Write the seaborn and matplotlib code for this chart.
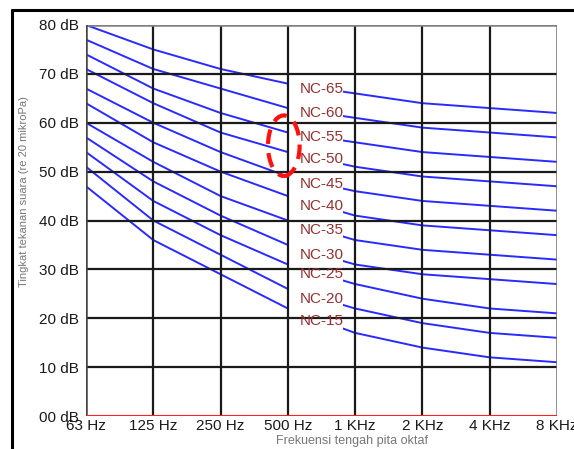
import numpy as np
import pandas as pd
import matplotlib
matplotlib.use("Agg")
from matplotlib import pyplot
from matplotlib.lines import Line2D
from matplotlib.patches import Ellipse
import seaborn as sns

# octave band centres and NC curve levels (dB)
bands = ['63 Hz', '125 Hz', '250 Hz', '500 Hz', '1 KHz', '2 KHz', '4 KHz', '8 KHz']
nc_names = ['NC-15', 'NC-20', 'NC-25', 'NC-30', 'NC-35', 'NC-40',
            'NC-45', 'NC-50', 'NC-55', 'NC-60', 'NC-65']
nc15 = [47, 36, 29, 22, 17, 14, 12, 11]
nc20 = [51, 40, 33, 26, 22, 19, 17, 16]
nc25 = [54, 44, 37, 31, 27, 24, 22, 21]
nc30 = [57, 48, 41, 35, 31, 29, 28, 27]
nc35 = [60, 52, 45, 40, 36, 34, 33, 32]
nc40 = [64, 56, 50, 45, 41, 39, 38, 37]
nc45 = [67, 60, 54, 49, 46, 44, 43, 42]
nc50 = [71, 64, 58, 54, 51, 49, 48, 47]
nc55 = [74, 67, 62, 58, 56, 54, 53, 52]
nc60 = [77, 71, 67, 63, 61, 59, 58, 57]
nc65 = [80, 75, 71, 68, 66, 64, 63, 62]
curves = [nc15, nc20, nc25, nc30, nc35, nc40, nc45, nc50, nc55, nc60, nc65]
y_ticks = [0, 10, 20, 30, 40, 50, 60, 70, 80]
y_ticklabels = ['00 dB', '10 dB', '20 dB', '30 dB', '40 dB', '50 dB', '60 dB', '70 dB', '80 dB']

rows = []
for name, vals in zip(nc_names, curves):
	for i, v in enumerate(vals):
		rows.append({'band': i, 'level': v, 'curve': name})
df = pd.DataFrame(rows)

sns.set_theme(style="white")
pyplot.rcParams['font.family'] = ['Liberation Sans', 'DejaVu Sans']

fig = pyplot.figure(figsize=(5.74, 4.49), dpi=100)
ax = fig.add_axes([86/574, 1 - 416/449, (557-86)/574, (416-25)/449])

line_blue = '#2a2aff'
sns.lineplot(data=df, x='band', y='level', hue='curve',
			 palette=[line_blue] * len(nc_names), legend=False,
			 linewidth=1.4, ax=ax, zorder=2)

ax.set_xlim(0, len(bands) - 1)
ax.set_ylim(0, 80)

# white mask where the labels sit, between 500 Hz and the label end
label_end = 3.82
ax.fill_between([3, label_end], 16, 69.5, color='white', lw=0, zorder=2.5)

# grid
for y in y_ticks[1:-1]:
	ax.axhline(y, color='#1a1a1a', lw=1.6, zorder=3)
for i in range(1, len(bands) - 1):
	ax.axvline(i, color='#1a1a1a', lw=1.6, zorder=3)
ax.axhline(80, color='#808080', lw=1.8, zorder=3)
ax.axvline(len(bands) - 1, color='#707070', lw=1.8, zorder=3)
ax.axvline(0, color='#444444', lw=1.8, zorder=3)
ax.axhline(0, color='#ff2020', lw=1.5, zorder=3.5)
for s in ax.spines.values():
	s.set_visible(False)

# curve labels at the middle of the 500 Hz - 1 KHz segment
for name, vals in zip(nc_names, curves):
	ax.text(3.5, (vals[3] + vals[4]) / 2, name, color='#963030',
			fontsize=11, ha='center', va='center', zorder=4)

# dashed red ring
ell = Ellipse((2.94, 55.3), 0.47, 12.4, fill=False, edgecolor='#ff1010',
			  lw=3, linestyle=(0, (3.5, 2.2)), zorder=5)
ax.add_patch(ell)

ax.set_xticks(range(len(bands)))
ax.set_xticklabels(bands, fontsize=11, color='#1a1a1a')
ax.set_yticks(y_ticks)
ax.set_yticklabels(y_ticklabels, fontsize=11, color='#1a1a1a')
ax.tick_params(axis='both', length=0)
ax.tick_params(axis='y', pad=5)
ax.tick_params(axis='x', pad=2)

ax.set_ylabel('Tingkat tekanan suara (re 20 mikroPa)', fontsize=8, color='#777777')
ax.yaxis.set_label_coords(-0.121, 0.575)
ax.set_xlabel('Frekuensi tengah pita oktaf', fontsize=9, color='#777777')
ax.xaxis.set_label_coords(0.565, -0.049)

# outer frame (top and left edges)
fig.add_artist(Line2D([12/574, 1], [1 - 10/449, 1 - 10/449], color='black', lw=2.2))
fig.add_artist(Line2D([12/574, 12/574], [0, 1 - 10/449], color='black', lw=2.2))

pyplot.savefig('out.png', dpi=100)
